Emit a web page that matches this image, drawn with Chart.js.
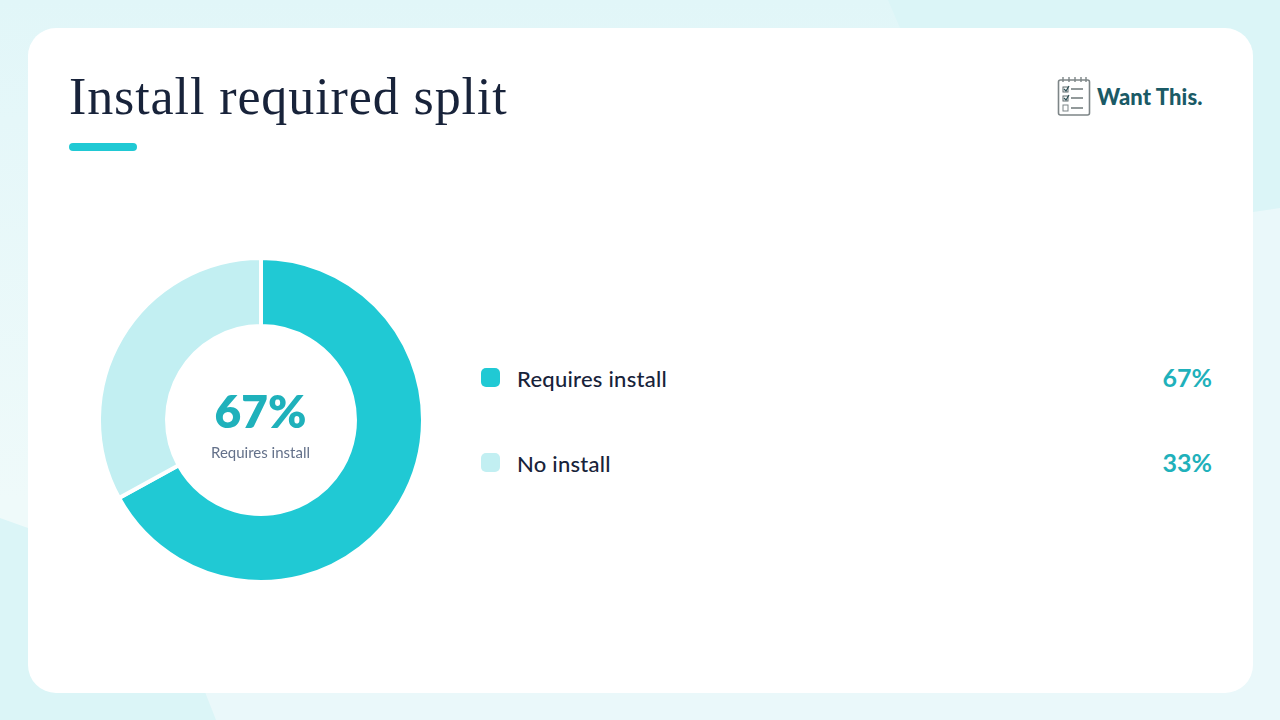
<!DOCTYPE html>
<html>
<head>
<meta charset="utf-8">
<script src="https://cdn.jsdelivr.net/npm/chart.js@4"></script>
<style>
html, body { margin: 0; padding: 0; }
body { width: 1280px; height: 720px; overflow: hidden; position: relative; background: #dbf5f7; font-family: Lato, sans-serif; }
.shape { position: absolute; left: 0; top: 0; width: 1280px; height: 720px; }
#bgA { background: linear-gradient(180deg, #e1f6f8 0, #e5f7f9 120px, #effafa 500px); clip-path: polygon(0 0, 888px 0, 900px 28px, 28px 528px, 0 518px); }
#bgC { background: #eaf8fa; clip-path: polygon(205px 692px, 1200px 692px, 1200px 650px, 1280px 650px, 1280px 720px, 216px 720px); }
#bgD { background: #eaf8fa; clip-path: polygon(1253px 212px, 1280px 208px, 1280px 720px, 1253px 720px); }
#card { position: absolute; left: 28px; top: 28px; width: 1225px; height: 665px; background: #fff; border-radius: 28px; }
#title { position: absolute; left: 69px; top: 67px; font: 400 52px/60px "Liberation Serif", serif; letter-spacing: 0.9px; color: #18233a; white-space: nowrap; }
#rule { position: absolute; left: 69px; top: 143px; width: 68px; height: 8px; border-radius: 4px; background: #20c9d4; }
#logo { position: absolute; left: 1050px; top: 74px; width: 161px; height: 45px; }
#logoText { position: absolute; left: 1097px; top: 83px; font: 900 22px/28px Lato, sans-serif; letter-spacing: 0.1px; color: #1a5a66; white-space: nowrap; }
#chartBox { position: absolute; left: 97px; top: 256px; width: 328px; height: 328px; }
#centerNum { position: absolute; left: 160px; width: 201px; top: 385px; text-align: center; font: 800 46px/52px Lato, sans-serif; color: #1fb1bb; }
#centerLabel { position: absolute; left: 160px; width: 201px; top: 443px; text-align: center; font: 400 15px/18px Lato, sans-serif; color: #64718a; }
.row { position: absolute; left: 481px; width: 731px; height: 30px; }
.swatch { position: absolute; left: 0; top: 4px; width: 19px; height: 19px; border-radius: 5px; }
.name { position: absolute; left: 36px; top: 0; font: 500 22px/30px Lato, sans-serif; letter-spacing: 0.25px; color: #18233a; white-space: nowrap; }
.pct { position: absolute; right: 0; top: -1px; font: 700 25px/28px Lato, sans-serif; color: #1fb1bb; }
</style>
</head>
<body>
<div class="shape" id="bgA"></div>
<div class="shape" id="bgC"></div>
<div class="shape" id="bgD"></div>
<div id="card"></div>
<div id="title">Install required split</div>
<div id="rule"></div>

<svg id="logo" viewBox="0 0 161 45">
  <rect x="8.5" y="6" width="31" height="35" rx="2" fill="#fff" stroke="#7d8587" stroke-width="1.6"/>
  <path d="M13 3v5M19 3v5M25 3v5M31 3v5M36 3v5" stroke="#7d8587" stroke-width="1.4"/>
  <rect x="13" y="13" width="5" height="5" fill="none" stroke="#5f6a6c" stroke-width="1"/>
  <rect x="13" y="22" width="5" height="5" fill="none" stroke="#5f6a6c" stroke-width="1"/>
  <rect x="13" y="31" width="5" height="6" fill="none" stroke="#7d8587" stroke-width="1"/>
  <path d="M14 15l2 2 3-5M14 24l2 2 3-5" fill="none" stroke="#2d4f55" stroke-width="1.2"/>
  <path d="M21 15h12M21 24h12M21 34h12" stroke="#6f787a" stroke-width="1.4"/>
</svg>
<div id="logoText">Want This.</div>

<div id="chartBox"><canvas id="donut" width="328" height="328"></canvas></div>
<div id="centerNum"></div>
<div id="centerLabel"></div>
<div id="legendRows"></div>

<script>
// Adatok
const categories = ['Requires install', 'No install'];
const shares = [67, 33];
const sliceColors = ['#20c9d4', '#c2eff2'];
const rowTops = [364, 449];

// Jelmagyarázat sorai
const rows = document.getElementById('legendRows');
categories.forEach((name, i) => {
    const row = document.createElement('div');
    row.className = 'row';
    row.style.top = rowTops[i] + 'px';
    row.innerHTML = '<div class="swatch" style="background:' + sliceColors[i] + '"></div>' +
        '<div class="name">' + name + '</div>' +
        '<div class="pct">' + shares[i] + '%</div>';
    rows.appendChild(row);
});

document.getElementById('centerNum').textContent = shares[0] + '%';
document.getElementById('centerLabel').textContent = categories[0];

// Diagram
new Chart(document.getElementById('donut').getContext('2d'), {
    type: 'doughnut',
    data: {
        labels: categories,
        datasets: [{
            data: shares,
            backgroundColor: sliceColors,
            borderColor: '#ffffff',
            borderWidth: 4,
            borderAlign: 'center'
        }]
    },
    options: {
        responsive: false,
        animation: false,
        cutout: '58%',
        layout: { padding: 0 },
        plugins: { legend: { display: false }, tooltip: { enabled: false } }
    }
});
</script>
</body>
</html>
